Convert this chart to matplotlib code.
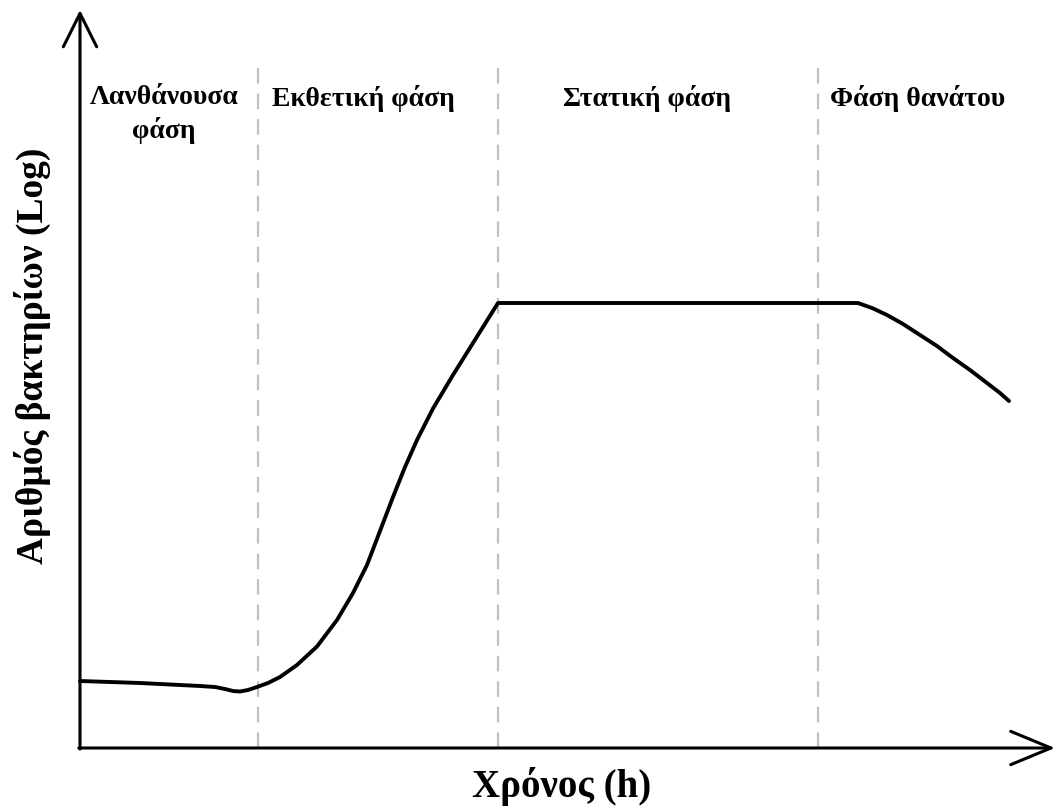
import matplotlib.pyplot as plt

plt.rcParams["font.family"] = ["Liberation Serif", "DejaVu Serif"]

# growth curve, time (h) vs log of bacteria count (arbitrary units)
time_h = [0.0, 1.5, 3.0, 3.375, 3.625, 3.825, 4.0, 4.2, 4.425, 4.7, 5.0,
          5.425, 5.925, 6.425, 6.825, 7.175, 7.5, 7.825, 8.125, 8.425, 8.825,
          9.325, 9.825, 10.45, 19.45, 19.8, 20.175, 20.575, 21.0, 21.425,
          21.825, 22.25, 22.675, 23.0, 23.225]
log_count = [1.34, 1.30, 1.24, 1.22, 1.18, 1.14, 1.13, 1.16, 1.22, 1.30, 1.42,
             1.66, 2.03, 2.56, 3.10, 3.66, 4.34, 5.02, 5.62, 6.16, 6.79,
             7.46, 8.10, 8.90, 8.90, 8.80, 8.66, 8.48, 8.26, 8.04,
             7.80, 7.56, 7.30, 7.10, 6.94]

# phase boundaries
boundaries = [4.45, 10.45, 18.45]

phase_labels = ["Λανθάνουσα\nφάση", "Εκθετική φάση", "Στατική φάση", "Φάση θανάτου"]
label_x = [2.1, 7.08, 14.18, 20.93]

xlabel = "Χρόνος (h)"
ylabel = "Αριθμός βακτηρίων (Log)"

fig = plt.figure(figsize=(10.59, 8.10), dpi=100)
ax = fig.add_axes([0, 0, 1, 1])
ax.set_xlim(-2.0, 24.475)
ax.set_ylim(-1.24, 14.96)
ax.axis("off")

# dashed phase separators
for b in boundaries:
    ax.plot([b, b], [0, 13.66], color="#c0c0c0", lw=1.6,
            linestyle=(0, (7, 4.5)), zorder=1)

# axes with open arrowheads
ax.annotate("", xy=(0, 14.76), xytext=(0, -0.02),
            arrowprops=dict(arrowstyle="->,head_length=2.4,head_width=1.2",
                            lw=2.2, color="black", shrinkA=0, shrinkB=0))
ax.annotate("", xy=(24.375, 0), xytext=(-0.03, 0),
            arrowprops=dict(arrowstyle="->,head_length=2.9,head_width=1.2",
                            lw=2.2, color="black", shrinkA=0, shrinkB=0))

# growth curve
ax.plot(time_h, log_count, color="black", lw=2.8,
        solid_joinstyle="round", solid_capstyle="round", zorder=3)

# phase labels
for lab, x in zip(phase_labels, label_x):
    ax.text(x, 13.25, lab, ha="center", va="top", fontsize=20,
            fontweight="bold", linespacing=1.3)

ax.text(12.05, -0.76, xlabel, ha="center", va="center", fontsize=28,
        fontweight="bold")
ax.text(-1.2, 7.85, ylabel, ha="center", va="center", fontsize=27,
        fontweight="bold", rotation=90)

fig.savefig("out.png", dpi=100)
